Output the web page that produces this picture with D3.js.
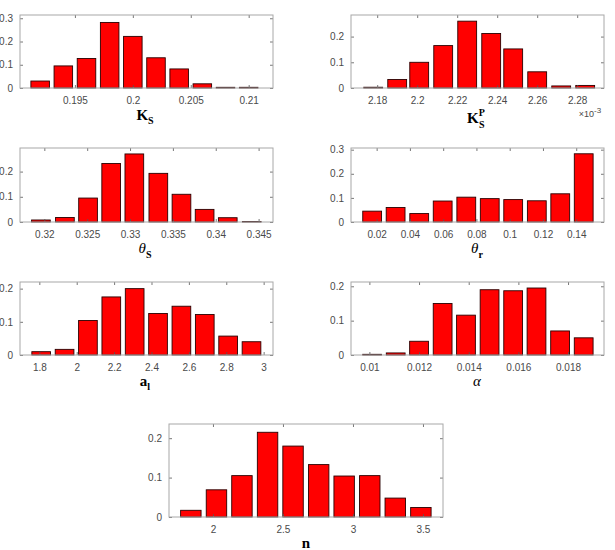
<!DOCTYPE html>
<html>
<head>
<meta charset="utf-8">
<script src="https://cdn.jsdelivr.net/npm/d3@7"></script>
<style>
  html, body { margin: 0; padding: 0; background: #fff; }
  svg { display: block; }
</style>
</head>
<body>
<svg id="chart" width="615" height="550"></svg>
<script>
// ---- Data ----
const ksCenters = [0.192, 0.194, 0.196, 0.198, 0.200, 0.202, 0.204, 0.206, 0.208, 0.210];
const ksValues  = [0.030, 0.095, 0.127, 0.282, 0.222, 0.130, 0.082, 0.018, 0.003, 0.003];
const ksXTicks  = [0.195, 0.2, 0.205, 0.21];
const ksXLabels = ["0.195", "0.2", "0.205", "0.21"];
const ksYTicks  = [0, 0.1, 0.2, 0.3];

const kspCenters = [2.178, 2.190, 2.201, 2.213, 2.225, 2.237, 2.248, 2.260, 2.272, 2.284]; // x 1e-3
const kspValues  = [0.003, 0.033, 0.100, 0.165, 0.260, 0.212, 0.152, 0.063, 0.008, 0.010];
const kspXTicks  = [2.18, 2.2, 2.22, 2.24, 2.26, 2.28];
const kspXLabels = ["2.18", "2.2", "2.22", "2.24", "2.26", "2.28"];
const kspYTicks  = [0, 0.1, 0.2];

const thsCenters = [0.3196, 0.3224, 0.3251, 0.3278, 0.3305, 0.3333, 0.3360, 0.3387, 0.3414, 0.3442];
const thsValues  = [0.008, 0.018, 0.095, 0.232, 0.270, 0.193, 0.110, 0.050, 0.017, 0.002];
const thsXTicks  = [0.32, 0.325, 0.33, 0.335, 0.34, 0.345];
const thsXLabels = ["0.32", "0.325", "0.33", "0.335", "0.34", "0.345"];
const thsYTicks  = [0, 0.1, 0.2];

const thrCenters = [0.0173, 0.0314, 0.0456, 0.0597, 0.0739, 0.0880, 0.1021, 0.1163, 0.1304, 0.1445];
const thrValues  = [0.045, 0.060, 0.035, 0.087, 0.103, 0.097, 0.093, 0.088, 0.117, 0.283];
const thrXTicks  = [0.02, 0.04, 0.06, 0.08, 0.1, 0.12, 0.14];
const thrXLabels = ["0.02", "0.04", "0.06", "0.08", "0.1", "0.12", "0.14"];
const thrYTicks  = [0, 0.1, 0.2, 0.3];

const alCenters = [1.810, 1.935, 2.060, 2.185, 2.310, 2.435, 2.560, 2.685, 2.810, 2.935];
const alValues  = [0.010, 0.017, 0.104, 0.175, 0.200, 0.125, 0.147, 0.122, 0.057, 0.040];
const alXTicks  = [1.8, 2, 2.2, 2.4, 2.6, 2.8, 3];
const alXLabels = ["1.8", "2", "2.2", "2.4", "2.6", "2.8", "3"];
const alYTicks  = [0, 0.1, 0.2];

const alphaCenters = [0.01011, 0.01106, 0.01200, 0.01295, 0.01389, 0.01484, 0.01579, 0.01673, 0.01768, 0.01863];
const alphaValues  = [0.002, 0.006, 0.040, 0.150, 0.116, 0.190, 0.187, 0.195, 0.070, 0.050];
const alphaXTicks  = [0.01, 0.012, 0.014, 0.016, 0.018];
const alphaXLabels = ["0.01", "0.012", "0.014", "0.016", "0.018"];
const alphaYTicks  = [0, 0.1, 0.2];

const nCenters = [1.842, 2.025, 2.207, 2.390, 2.572, 2.755, 2.937, 3.120, 3.302, 3.485];
const nValues  = [0.017, 0.069, 0.105, 0.215, 0.180, 0.133, 0.104, 0.105, 0.048, 0.024];
const nXTicks  = [2, 2.5, 3, 3.5];
const nXLabels = ["2", "2.5", "3", "3.5"];
const nYTicks  = [0, 0.1, 0.2];

// ---- Layout ----
const panels = [
  { box: [20, 15, 273, 88],    xd: [0.19026, 0.2121], yd: [0, 0.314], centers: ksCenters, values: ksValues, bin: 0.002,
    xt: ksXTicks, xl: ksXLabels, yt: ksYTicks, label: "ks", lx: 145, ly: 120 },
  { box: [351, 15, 604, 88],   xd: [2.1669, 2.2934], yd: [0, 0.284], centers: kspCenters, values: kspValues, bin: 0.01178,
    xt: kspXTicks, xl: kspXLabels, yt: kspYTicks, label: "ksp", lx: 476, ly: 123, expo: true },
  { box: [20, 148, 273, 222],  xd: [0.31716, 0.34668], yd: [0, 0.2936], centers: thsCenters, values: thsValues, bin: 0.002727,
    xt: thsXTicks, xl: thsXLabels, yt: thsYTicks, label: "ths", lx: 145, ly: 253 },
  { box: [351, 148, 604, 222], xd: [0.00458, 0.1567], yd: [0, 0.307], centers: thrCenters, values: thrValues, bin: 0.01414,
    xt: thrXTicks, xl: thrXLabels, yt: thrYTicks, label: "thr", lx: 477, ly: 253 },
  { box: [20, 282, 273, 355],  xd: [1.6966, 3.05], yd: [0, 0.22], centers: alCenters, values: alValues, bin: 0.125,
    xt: alXTicks, xl: alXLabels, yt: alYTicks, label: "al", lx: 145, ly: 386 },
  { box: [351, 282, 604, 355], xd: [0.00926, 0.019448], yd: [0, 0.2125], centers: alphaCenters, values: alphaValues, bin: 0.000946,
    xt: alphaXTicks, xl: alphaXLabels, yt: alphaYTicks, label: "alpha", lx: 477, ly: 386 },
  { box: [169, 424, 443, 517], xd: [1.686, 3.643], yd: [0, 0.236], centers: nCenters, values: nValues, bin: 0.1825,
    xt: nXTicks, xl: nXLabels, yt: nYTicks, label: "n", lx: 306, ly: 548 }
];

const svg = d3.select("#chart");
const tickColor = "#4a4a4a";
const boxColor = "#a8a8a8";
const tickFont = "Liberation Sans, Arial, sans-serif";
const labelFont = "Liberation Serif, Times New Roman, serif";

panels.forEach(p => {
  const [x0, y0, x1, y1] = p.box;
  const x = d3.scaleLinear().domain(p.xd).range([x0, x1]);
  const y = d3.scaleLinear().domain(p.yd).range([y1, y0]);
  const g = svg.append("g");

  // bars
  const bw = p.bin * 0.8;
  g.selectAll("rect.bar").data(p.centers.map((c, i) => ({ c, v: p.values[i] })))
    .enter().append("rect")
    .attr("x", d => x(d.c - bw / 2))
    .attr("width", d => x(d.c + bw / 2) - x(d.c - bw / 2))
    .attr("y", d => y(d.v))
    .attr("height", d => y(0) - y(d.v))
    .attr("fill", "#ff0000")
    .attr("stroke", "#2a0000")
    .attr("stroke-width", 0.9);

  // axes (ticks inward, on all four sides)
  const bottom = d3.axisBottom(x).tickValues(p.xt).tickFormat((d) => p.xl[p.xt.indexOf(d)]).tickSizeInner(-3).tickSizeOuter(0).tickPadding(9);
  const top = d3.axisTop(x).tickValues(p.xt).tickFormat("").tickSizeInner(-3).tickSizeOuter(0);
  const left = d3.axisLeft(y).tickValues(p.yt).tickFormat(d => d === 0 ? "0" : d3.format(".1f")(d)).tickSizeInner(-3).tickSizeOuter(0).tickPadding(7);
  const right = d3.axisRight(y).tickValues(p.yt).tickFormat("").tickSizeInner(-3).tickSizeOuter(0);

  const style = sel => {
    sel.select(".domain").remove();
    sel.selectAll(".tick line").attr("stroke", "#555").attr("stroke-width", 0.8);
    sel.selectAll(".tick text").attr("fill", tickColor).style("font-family", tickFont).style("font-size", "10px");
  };
  g.append("g").attr("transform", `translate(0,${y1})`).call(bottom).call(style);
  g.append("g").attr("transform", `translate(0,${y0})`).call(top).call(style);
  g.append("g").attr("transform", `translate(${x0},0)`).call(left).call(style);
  g.append("g").attr("transform", `translate(${x1},0)`).call(right).call(style);

  // box
  g.append("rect").attr("x", x0).attr("y", y0).attr("width", x1 - x0).attr("height", y1 - y0)
    .attr("fill", "none").attr("stroke", boxColor).attr("stroke-width", 1);

  // x label
  const t = g.append("text").attr("x", p.lx).attr("y", p.ly).attr("text-anchor", "middle")
    .style("font-family", labelFont).style("font-size", "15px").style("font-weight", "bold").attr("fill", "#000");
  if (p.label === "ks") {
    t.append("tspan").text("K");
    t.append("tspan").text("S").attr("dy", 4).style("font-size", "10px");
  } else if (p.label === "ksp") {
    t.append("tspan").text("K");
    t.append("tspan").text("P").attr("dy", -7).style("font-size", "10px");
    t.append("tspan").text("S").attr("dx", -6).attr("dy", 12).style("font-size", "10px");
  } else if (p.label === "ths") {
    t.append("tspan").text("θ").style("font-style", "italic").style("font-weight", "normal");
    t.append("tspan").text("S").attr("dy", 5).style("font-size", "10px");
  } else if (p.label === "thr") {
    t.append("tspan").text("θ").style("font-style", "italic").style("font-weight", "normal");
    t.append("tspan").text("r").attr("dy", 5).style("font-size", "10px");
  } else if (p.label === "al") {
    t.append("tspan").text("a");
    t.append("tspan").text("l").attr("dy", 4).style("font-size", "10px");
  } else if (p.label === "alpha") {
    t.append("tspan").text("α").style("font-style", "italic").style("font-weight", "normal");
  } else if (p.label === "n") {
    t.append("tspan").text("n");
  }

  if (p.expo) {
    const e = g.append("text").attr("x", x1 - 14).attr("y", y1 + 29).attr("text-anchor", "middle")
      .style("font-family", tickFont).style("font-size", "9px").attr("fill", tickColor);
    e.append("tspan").text("×10");
    e.append("tspan").text("-3").attr("dy", -4).style("font-size", "8px");
  }
});
</script>
</body>
</html>
